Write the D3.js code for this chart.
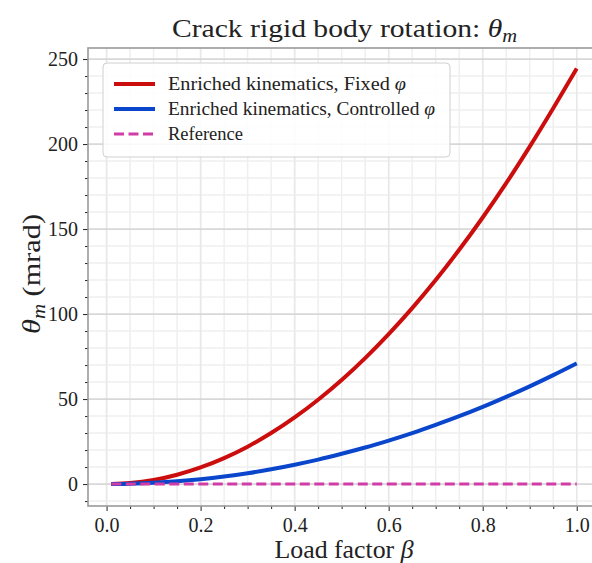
<!DOCTYPE html>
<html><head><meta charset="utf-8">
<script src="https://cdn.jsdelivr.net/npm/d3@7"></script>
<style>body{margin:0;background:#fff;} svg{display:block;} text{font-family:'Liberation Serif','DejaVu Serif',serif;}</style>
</head><body>
<svg id="c" width="592" height="563"></svg>
<script>
const beta = [0.01,0.05,0.10,0.15,0.20,0.25,0.30,0.35,0.40,0.45,0.50,0.55,0.60,0.65,0.70,0.75,0.80,0.85,0.90,0.95,1.00];
const fixedPhi = [0.02,0.6,2.4,5.5,9.8,15.3,22.0,30.0,39.2,49.6,61.2,74.1,88.2,103.5,120.0,137.8,156.8,177.0,198.5,221.1,244.5];
const controlledPhi = [0.01,0.18,0.71,1.6,2.84,4.44,6.39,8.70,11.4,14.4,17.8,21.5,25.6,30.0,34.8,39.9,45.4,51.3,57.5,64.1,71.0];
const reference = [0,0,0,0,0,0,0,0,0,0,0,0,0,0,0,0,0,0,0,0,0];
const xTicks = [0.0,0.2,0.4,0.6,0.8,1.0];
const yTicks = [0,50,100,150,200,250];
const seriesNames = ["Enriched kinematics, Fixed ", "Enriched kinematics, Controlled ", "Reference"];

const font = "'Liberation Serif','DejaVu Serif',serif";
const svg = d3.select("#c");
const L=88, R=600, T=48, B=506;
const x = d3.scaleLinear().domain([-0.0395,1.0495]).range([L,R]);
const y = d3.scaleLinear().domain([-12.9,256.5]).range([B,T]);

svg.append("defs").append("clipPath").attr("id","clip").append("rect").attr("x",L).attr("y",T).attr("width",R-L).attr("height",B-T);
const g = svg.append("g");
g.append("rect").attr("x",L).attr("y",T).attr("width",R-L).attr("height",B-T).attr("fill","#fff");

const xMinor = d3.range(0,21).map(i=>+(i*0.05).toFixed(2));
const yMinor = d3.range(-10,257,10);
const grid = g.append("g").attr("clip-path","url(#clip)");
xMinor.forEach(v=>grid.append("line").attr("x1",x(v)).attr("x2",x(v)).attr("y1",T).attr("y2",B).attr("stroke","#efefef").attr("stroke-width",1.5));
yMinor.forEach(v=>grid.append("line").attr("y1",y(v)).attr("y2",y(v)).attr("x1",L).attr("x2",R).attr("stroke","#efefef").attr("stroke-width",1.5));
xTicks.forEach(v=>grid.append("line").attr("x1",x(v)).attr("x2",x(v)).attr("y1",T).attr("y2",B).attr("stroke","#e8e8e8").attr("stroke-width",1.5));
yTicks.forEach(v=>grid.append("line").attr("y1",y(v)).attr("y2",y(v)).attr("x1",L).attr("x2",R).attr("stroke","#cfcfcf").attr("stroke-width",1.2));

// axes
const xAxis = d3.axisBottom(x).tickValues(xTicks).tickFormat(d3.format(".1f")).tickSize(5).tickPadding(7);
const xAxisMinor = d3.axisBottom(x).tickValues(xMinor.filter(v=>!xTicks.some(t=>Math.abs(t-v)<1e-9))).tickFormat("").tickSize(3);
const yAxis = d3.axisLeft(y).tickValues(yTicks).tickFormat(d3.format("d")).tickSize(5).tickPadding(5);
const yAxisMinor = d3.axisLeft(y).tickValues(yMinor.filter(v=>v%50!==0)).tickFormat("").tickSize(3);
function styleAxis(sel){sel.attr("font-family",null).attr("font-size",null);sel.select(".domain").remove();sel.selectAll("line").attr("stroke","#222").attr("stroke-width",1);sel.selectAll("text").style("font-family",font).style("font-size","20px").attr("fill","#222");}
g.append("g").attr("transform",`translate(0,${B})`).call(xAxis).call(styleAxis);
g.append("g").attr("transform",`translate(0,${B})`).call(xAxisMinor).call(styleAxis);
g.append("g").attr("transform",`translate(${L},0)`).call(yAxis).call(styleAxis);
g.append("g").attr("transform",`translate(${L},0)`).call(yAxisMinor).call(styleAxis);

// spines
g.append("rect").attr("x",L).attr("y",T).attr("width",R-L).attr("height",B-T).attr("fill","none").attr("stroke","#9a9a9a").attr("stroke-width",1.6);

// lines
const line = (vals)=>d3.line().x((d,i)=>x(beta[i])).y(d=>y(d)).curve(d3.curveMonotoneX)(vals);
const plot = g.append("g").attr("clip-path","url(#clip)");
const colors = ["#cc0d0d","#0a46cc","#d23ca6"];
plot.append("path").attr("d",line(fixedPhi)).attr("fill","none").attr("stroke",colors[0]).attr("stroke-width",4);
plot.append("path").attr("d",line(controlledPhi)).attr("fill","none").attr("stroke",colors[1]).attr("stroke-width",4);
plot.append("path").attr("d",line(reference)).attr("fill","none").attr("stroke",colors[2]).attr("stroke-width",3).attr("stroke-dasharray","10,4.5");

// legend
const lg = g.append("g");
lg.append("rect").attr("x",103).attr("y",63).attr("width",347).attr("height",94).attr("rx",4).attr("fill","rgba(255,255,255,0.85)").attr("stroke","#d0d0d0").attr("stroke-width",1);
const legendLen = [238, 267, 75];
[0,1,2].forEach(i=>{
  const yy = 84 + i*25;
  lg.append("line").attr("x1",114).attr("x2",155).attr("y1",yy).attr("y2",yy).attr("stroke",colors[i]).attr("stroke-width",i<2?4:3).attr("stroke-dasharray",i===2?"10,4.5":null);
  const t = lg.append("text").attr("x",168).attr("y",yy+6).style("font-family",font).style("font-size","18px").attr("fill","#222")
    .attr("textLength",legendLen[i]).attr("lengthAdjust","spacingAndGlyphs").text(seriesNames[i]);
  if(i<2) t.append("tspan").attr("font-style","italic").text("φ");
});

// title
const title = svg.append("text").attr("x",344.5).attr("y",37).attr("text-anchor","middle").style("font-family",font).style("font-size","26px").attr("fill","#222")
  .attr("textLength",345).attr("lengthAdjust","spacingAndGlyphs").text("Crack rigid body rotation: ");
title.append("tspan").attr("font-style","italic").text("θ");
title.append("tspan").attr("font-style","italic").style("font-size","18px").attr("dy",5).text("m");

// x label
const xl = svg.append("text").attr("x",344).attr("y",558).attr("text-anchor","middle").style("font-family",font).style("font-size","26px").attr("fill","#222")
  .attr("textLength",139).attr("lengthAdjust","spacingAndGlyphs").text("Load factor ");
xl.append("tspan").attr("font-style","italic").text("β");

// y label
const yl = svg.append("text").attr("transform","translate(40,274) rotate(-90)").attr("text-anchor","middle").style("font-family",font).style("font-size","26px").attr("fill","#222")
  .attr("textLength",120).attr("lengthAdjust","spacingAndGlyphs");
yl.append("tspan").attr("font-style","italic").text("θ");
yl.append("tspan").attr("font-style","italic").style("font-size","18px").attr("dy",5).text("m");
yl.append("tspan").attr("dy",-5).text(" (mrad)");
</script>
</body></html>
